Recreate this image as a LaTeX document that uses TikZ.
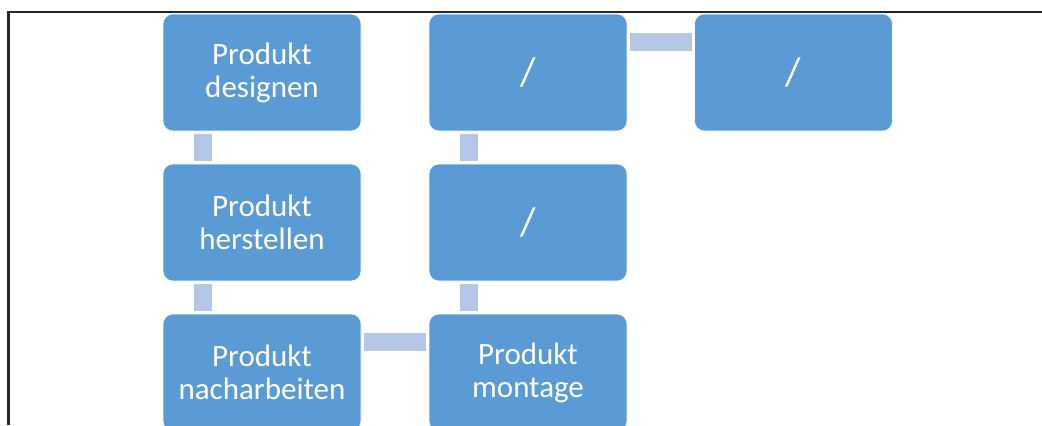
\documentclass[tikz,border=0pt]{standalone}
\usepackage{fontspec}
\setmainfont{Carlito}
\usetikzlibrary{calc}
\definecolor{boxblue}{HTML}{5B9BD5}
\definecolor{linkblue}{HTML}{B4C7E7}

\begin{document}
\begin{tikzpicture}
    [x=0.75pt,y=-0.75pt,
     every node/.style={rectangle, rounded corners=7.5pt, fill=boxblue, draw=white, line width=0.4pt,
       text=white, minimum width=148.5pt, minimum height=87.75pt, align=center,
       font=\fontsize{23.25}{24.75}\selectfont},
     big/.style={font=\fontsize{30}{32}\selectfont},
     link/.style={draw=linkblue, line width=13.5pt, shorten <=2pt, shorten >=2pt}]
    \clip (0,0) rectangle (1042,425);
    \useasboundingbox (0,0) rectangle (1042,425);

    % frame
    \draw[line width=1.6pt, black!85] (8.5,425) -- (8.5,12) -- (1042,12);

    \node (des) at (262,72.5) {Produkt\\designen};
    \node (her) at (262,222.5) {Produkt\\herstellen};
    \node (nach) at (262,372.5) {Produkt\\nacharbeiten};
    \node (mon) at (528,372.5) {Produkt\\montage};
    \node[big] (s1) at (528,222.5) {/};
    \node[big] (s2) at (528,72.5) {/};
    \node[big] (s3) at (793.5,72.5) {/};

    \foreach \from/\to in {des/her, her/nach, s2/s1, s1/mon}
    \draw[link] ($(\from.south west)+(40,0)$) -- ($(\to.north west)+(40,0)$);
    \foreach \from/\to in {nach/mon, s2/s3}
    \draw[link] ($(\from.north east)+(0,28)$) -- ($(\to.north west)+(0,28)$);
  \end{tikzpicture}
\end{document}
